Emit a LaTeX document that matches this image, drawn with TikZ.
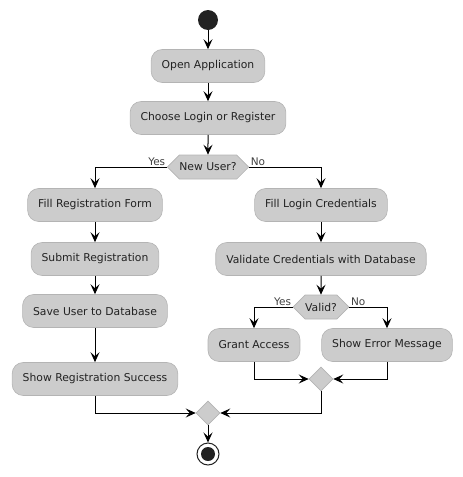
\documentclass[tikz,border=0pt]{standalone}
\usepackage{fontspec}
\setmainfont{DejaVu Sans}
\usetikzlibrary{arrows.meta,shapes.geometric,shapes.symbols}
\definecolor{boxfill}{HTML}{CCCCCC}
\definecolor{boxline}{HTML}{B4B4B4}
\definecolor{ink}{HTML}{222222}
\tikzset{
  act/.style={rectangle, rounded corners=11pt, draw=boxline, line width=0.6pt, fill=boxfill,
    minimum height=33pt, inner xsep=10.5pt, text=ink, font=\fontsize{10.8}{12}\selectfont},
  test/.style={signal, signal to=west and east, signal pointer angle=90,
    draw=boxline, line width=0.6pt, fill=boxfill, minimum height=24pt, inner xsep=0pt,
    text=ink, font=\fontsize{10.8}{12}\selectfont},
  merge/.style={diamond, draw=boxline, line width=0.6pt, fill=boxfill, minimum size=24pt, inner sep=0pt},
  lbl/.style={inner sep=1.5pt, text=black!75, font=\fontsize{10.5}{12}\selectfont},
  flow/.style={line width=1pt, draw=black, -{Stealth[length=10pt,width=9pt,inset=4pt]}}
}
\begin{document}
\begin{tikzpicture}[x=1pt,y=-1pt]
\useasboundingbox (0,0) rectangle (463,477);
\node[circle, fill=ink, minimum size=20pt, inner sep=0pt] (start) at (208,20) {};
\node[act] (open) at (208,66) {Open Application};
\node[act] (choose) at (208,118) {Choose Login or Register};
\node[test] (newuser) at (208,167) {New User?};
\node[act] (fillreg) at (95,205) {Fill Registration Form};
\node[act] (submit) at (95,259) {Submit Registration};
\node[act] (saveuser) at (95,311) {Save User to Database};
\node[act] (regok) at (95,379) {Show Registration Success};
\node[act] (fillcred) at (321,205) {Fill Login Credentials};
\node[act] (validate) at (321,259) {Validate Credentials with Database};
\node[test] (valid) at (321,307) {Valid?};
\node[act] (grant) at (254,345) {Grant Access};
\node[act] (error) at (387,345) {Show Error Message};
\node[merge] (inner) at (321,379) {};
\node[merge] (outer) at (208,413) {};
\node[circle, draw=ink, line width=1pt, minimum size=22pt, inner sep=0pt,
  path picture={\fill[ink] (path picture bounding box.center) circle (7pt);}] (stop) at (208,454) {};
\draw[flow] (start) -- (open);
\draw[flow] (open) -- (choose);
\draw[flow] (choose) -- (newuser);
\draw[flow] (newuser.west) -| (fillreg);
\node[lbl, above left] at (newuser.west) {Yes};
\draw[flow] (newuser.east) -| (fillcred);
\node[lbl, above right] at (newuser.east) {No};
\draw[flow] (fillreg) -- (submit);
\draw[flow] (submit) -- (saveuser);
\draw[flow] (saveuser) -- (regok);
\draw[flow] (fillcred) -- (validate);
\draw[flow] (validate) -- (valid);
\draw[flow] (valid.west) -| (grant);
\node[lbl, above left] at (valid.west) {Yes};
\draw[flow] (valid.east) -| (error);
\node[lbl, above right] at (valid.east) {No};
\draw[flow] (grant.south) |- (inner.west);
\draw[flow] (error.south) |- (inner.east);
\draw[flow] (regok.south) |- (outer.west);
\draw[flow] (inner.south) |- (outer.east);
\draw[flow] (outer) -- (stop);
\end{tikzpicture}
\end{document}
